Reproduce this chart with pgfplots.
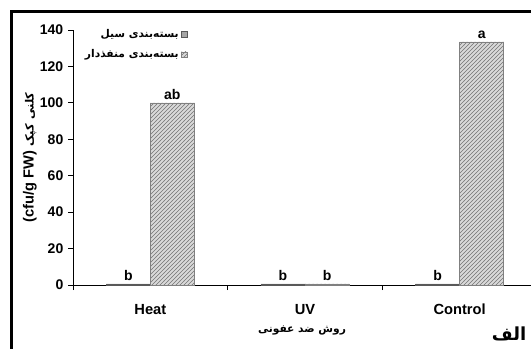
\documentclass[border=0pt]{standalone}
\usepackage{pgfplots}
\pgfplotsset{compat=1.18}
\usepackage{fontspec}
\setmainfont{Liberation Sans}
\newfontfamily\fa[Script=Arabic]{DejaVu Sans}
\TeXXeTstate=1
\usetikzlibrary{patterns}
\begin{document}
\begin{tikzpicture}[x=0.75pt,y=0.75pt]
\clip (0,0) rectangle (531,349);
\useasboundingbox (0,0) rectangle (531,349);
\draw[line width=2.25pt] (11,-10) -- (11,337) -- (545,337);
\begin{axis}[
  at={(54.75pt,48pt)}, anchor=south west,
  scale only axis, width=348pt, height=191.25pt,
  xmin=-0.5, xmax=2.5, ymin=0, ymax=140,
  clip=false,
  axis lines*=left,
  axis line style={line width=0.6pt, black},
  ybar,
  ytick={0,20,...,140},
  xtick={0,1,2}, xticklabels={Heat,UV,Control},
  minor xtick={-0.5,0.5,1.5,2.5},
  major x tick style={draw=none},
  tick align=outside, major tick length=3.75pt, minor tick length=3.75pt,
  every tick/.style={black, line width=0.6pt},
  /pgf/number format/assume math mode=true,
  y tick label style={font=\bfseries\fontsize{10.5}{12}\selectfont},
  x tick label style={font=\bfseries\fontsize{11}{13}\selectfont, yshift=-7pt},
  ylabel={\bfseries\fontsize{11}{13}\selectfont\beginR{\fa\fontsize{8.5}{10}\selectfont کلنی کپک} \beginL(cfu/g FW)\endL\endR},
  ylabel style={at={(axis description cs:-0.093,0.5)}, anchor=center},
  xlabel={\fa\bfseries\fontsize{8}{10}\selectfont\beginR روش ضد عفونی\endR},
  xlabel style={at={(axis description cs:0.4935,-0.18)}, anchor=center},
  nodes near coords, point meta=explicit symbolic,
  nodes near coords style={font=\bfseries\fontsize{10.5}{12}\selectfont, inner sep=2pt},
  legend style={at={(rel axis cs:0.248,1.013)}, anchor=north east, draw=none, fill=none,
    font=\fa\bfseries\fontsize{8}{10}\selectfont, row sep=3.5pt, inner sep=0pt},
  legend plot pos=right, legend cell align=right,
  legend image code/.code={\draw[#1] (0pt,-2.2pt) rectangle (4.4pt,2.2pt);},
]
\addplot[bar width=0.285, bar shift=-0.1425, fill=gray!70, draw=gray!70!black]
  coordinates {(0,0.6) [b] (1,0.6) [b] (2,0.6) [b]};
\addplot[bar width=0.285, bar shift=0.1425, fill=gray!30, draw=gray,
  postaction={pattern=north east lines, pattern color=gray!90!black}]
  coordinates {(0,100) [ab] (1,0.6) [b] (2,133.5) [a]};
\legend{{\beginR بسته^^^^200cبندی سیل\endR},{\beginR بسته^^^^200cبندی منفذدار\endR}}
\node[font=\fa\bfseries\fontsize{13.5}{15}\selectfont] at (rel axis cs:0.94,-0.19) {\beginR الف\endR};
\end{axis}
\end{tikzpicture}
\end{document}
